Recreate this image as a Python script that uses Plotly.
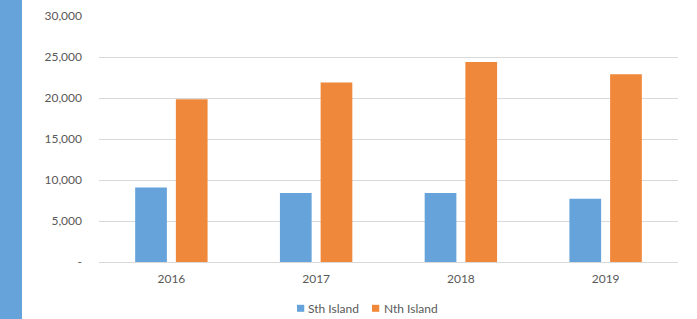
import plotly.graph_objects as go

years = ["2016", "2017", "2018", "2019"]
sth_island = [9100, 8400, 8400, 7700]
nth_island = [19850, 21900, 24400, 22900]
series_names = ["Sth Island", "Nth Island"]
series_colors = ["#65a3da", "#ef883a"]
tick_vals = [0, 5000, 10000, 15000, 20000, 25000, 30000]
tick_text = ["-", "5,000", "10,000", "15,000", "20,000", "25,000", "30,000"]

font_family = "Lato, Open Sans, sans-serif"
grey = "#595959"

fig = go.Figure()
for name, vals, col in zip(series_names, [sth_island, nth_island], series_colors):
    fig.add_trace(go.Bar(name=name, x=years, y=vals, marker_color=col,
                         marker_line_width=0, showlegend=False))

# custom legend (square swatch + label), placed in paper coordinates
legend_swatch_x = [0.342, 0.4715]
legend_text_x = [0.3598, 0.490]
shapes = [dict(type="rect", xref="paper", yref="paper", x0=-0.171, x1=-0.133,
               y0=-0.5, y1=1.5, fillcolor="#65a3da", line_width=0, layer="below")]
annotations = []
for name, col, sx, tx in zip(series_names, series_colors, legend_swatch_x, legend_text_x):
    shapes.append(dict(type="rect", xref="paper", yref="paper", x0=sx, x1=sx + 0.0125,
                       y0=-0.2024, y1=-0.174, fillcolor=col, line_width=0))
    annotations.append(dict(text=name, xref="paper", yref="paper", x=tx, y=-0.188,
                            xanchor="left", yanchor="middle", showarrow=False,
                            borderpad=0, font=dict(size=12, color=grey)))

fig.update_layout(
    width=697, height=319,
    margin=dict(l=99, r=19, t=15.5, b=56.5, autoexpand=False),
    paper_bgcolor="white", plot_bgcolor="white",
    barmode="group", bargap=0.4376, bargroupgap=0.221,
    font=dict(family=font_family, size=12, color=grey),
    showlegend=False,
    shapes=shapes,
    annotations=annotations,
)
fig.update_yaxes(range=[0, 30000], tickvals=tick_vals, ticktext=tick_text,
                 gridcolor="#d9d9d9", gridwidth=1, zeroline=False, showline=False,
                 ticks="", ticklabelstandoff=16, automargin=False,
                 tickfont=dict(size=12, color=grey))
fig.update_xaxes(showline=True, linecolor="#d9d9d9", linewidth=1, ticks="",
                 automargin=False, tickfont=dict(size=12, color=grey), ticklabelstandoff=6)

fig.write_html("out.html", config={"displayModeBar": False},
               post_script="document.body.style.margin='0px';")
